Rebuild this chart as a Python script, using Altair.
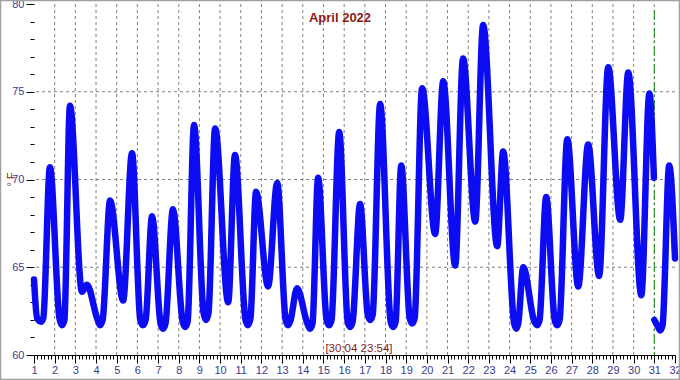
import altair as alt
import pandas as pd

# ---- data ----
days_a = [1.00, 1.15, 1.34, 1.45, 1.77,
          2.23, 2.35, 2.47, 2.74, 3.32, 3.56,
          4.05, 4.19, 4.32, 4.68, 5.31, 5.74,
          6.14, 6.27, 6.40, 6.71,
          7.12, 7.24, 7.36, 7.72,
          8.19, 8.31, 8.43, 8.74,
          9.20, 9.32, 9.44, 9.76, 10.39, 10.72,
          11.23, 11.35, 11.47, 11.74, 12.32, 12.76,
          13.17, 13.29, 13.41, 13.72,
          14.22, 14.35, 14.47, 14.74,
          15.15, 15.27, 15.39, 15.76,
          16.17, 16.29, 16.41, 16.77,
          17.14, 17.26, 17.38, 17.74,
          18.25, 18.37, 18.49, 18.76,
          19.17, 19.29, 19.41, 19.77, 20.40, 20.79, 21.37, 21.75, 22.34, 22.72,
          23.40, 23.69,
          24.22, 24.32, 24.42, 24.66,
          25.20, 25.33, 25.45, 25.77,
          26.18, 26.30, 26.42, 26.79, 27.32, 27.80, 28.33,
          28.77, 29.35, 29.74, 30.37, 30.76, 30.98]
temps_a = [64.3, 62.1, 61.9, 62.1, 70.7,
           62.1, 61.7, 62.0, 74.2, 63.6, 64.0,
           62.1, 61.7, 62.0, 68.8, 63.1, 71.5,
           62.0, 61.7, 62.0, 67.9,
           61.8, 61.5, 61.8, 68.3,
           61.9, 61.6, 61.9, 73.1,
           62.4, 62.0, 62.4, 72.9, 63.0, 71.4,
           62.0, 61.7, 62.1, 69.3, 63.9, 69.8,
           62.0, 61.7, 62.0, 63.8,
           61.8, 61.5, 61.8, 70.1,
           62.0, 61.7, 62.0, 72.7,
           61.9, 61.6, 61.9, 68.6,
           62.3, 62.0, 62.3, 74.3,
           61.9, 61.6, 61.9, 70.8,
           62.1, 61.8, 62.1, 75.2, 66.9, 75.6, 65.1, 76.9, 67.6, 78.8,
           66.2, 71.6,
           61.8, 61.5, 61.8, 65.0,
           61.9, 61.7, 62.0, 69.0,
           62.0, 61.7, 62.0, 72.3, 63.9, 72.0, 64.5,
           76.4, 67.7, 76.1, 63.4, 74.9, 70.1]
days_b = [31.00, 31.18, 31.29, 31.40, 31.72, 32.00]
temps_b = [62.0, 61.6, 61.4, 61.7, 70.8, 65.5]

day_labels = list(range(1, 33))
grid_days = list(range(2, 32))
grid_temps = [65, 70, 75]
major_temps = [60, 65, 70, 75, 80]
minor_temps = [t for t in range(61, 80) if t % 5 != 0]
minor_days = [d + k / 6 for d in range(1, 32) for k in range(1, 6)]
marker_day = 31

title_text = "April 2022"
stamp_text = "[30:04 23:54]"

# ---- styling ----
W, H = 641, 351
LBL = "#3b3b8f"
RED = "#8b1a1a"
FONT = "Liberation Sans"

xs = alt.Scale(domain=[1, 32], nice=False, zero=False)
ys = alt.Scale(domain=[60, 80], nice=False, zero=False)

df_line = pd.DataFrame({
    "day": days_a + days_b,
    "temp": temps_a + temps_b,
    "seg": ["a"] * len(days_a) + ["b"] * len(days_b),
})

vgrid = alt.Chart(pd.DataFrame({"day": grid_days})).mark_rule(
    color="#808080", strokeDash=[3, 3], strokeWidth=1
).encode(
    x=alt.X("day:Q", scale=xs, axis=alt.Axis(
        orient="bottom", values=minor_days, labels=False, domain=False, grid=False,
        tickSize=4, tickColor="#000000", title=None))
)

hgrid = alt.Chart(pd.DataFrame({"temp": grid_temps})).mark_rule(
    color="#808080", strokeDash=[3, 3], strokeWidth=1
).encode(
    y=alt.Y("temp:Q", scale=ys, axis=alt.Axis(
        orient="left", values=minor_temps, labels=False, domain=False, grid=False,
        tickSize=4, tickColor="#000000", title=None))
)

marker = alt.Chart(pd.DataFrame({"day": [marker_day]})).mark_rule(
    color="#1a8a1a", strokeDash=[10, 3, 2, 3], strokeWidth=1
).encode(
    x=alt.X("day:Q", scale=xs, axis=None),
    y=alt.value(6), y2=alt.value(H)
)

line = alt.Chart(df_line).mark_line(
    color="#0c0cf2", strokeWidth=6.5, interpolate="monotone",
    strokeCap="round", strokeJoin="round"
).encode(
    x=alt.X("day:Q", scale=xs, axis=alt.Axis(
        orient="bottom", values=day_labels, format="d", grid=False, domain=True,
        domainColor="#000000", tickColor="#000000", tickSize=8, labelPadding=1,
        labelColor=LBL, labelFont=FONT, labelFontSize=11, labelFlush=False,
        labelOverlap=False, title=None)),
    y=alt.Y("temp:Q", scale=ys, axis=alt.Axis(
        orient="left", values=major_temps, format="d", grid=False, domain=False,
        tickColor="#000000", tickSize=8, labelPadding=2,
        labelColor=LBL, labelFont=FONT, labelFontSize=11, labelFlush=False,
        title="° F", titleColor=RED, titleFont=FONT, titleFontSize=11,
        titleFontWeight="normal", titleX=-23, titleY=175, titleAngle=270,
        titleAlign="center", titleBaseline="middle")),
    detail="seg:N",
)

title = alt.Chart(pd.DataFrame({"t": [title_text]})).mark_text(
    font=FONT, fontSize=13, fontWeight="bold", color=RED, align="center",
    baseline="middle"
).encode(x=alt.value(306), y=alt.value(14), text="t:N")

stamp = alt.Chart(pd.DataFrame({"t": [stamp_text]})).mark_text(
    font=FONT, fontSize=11.5, color=RED, align="center", baseline="middle"
).encode(x=alt.value(325), y=alt.value(345), text="t:N")

border = alt.Chart(pd.DataFrame({"t": [0]})).mark_rect(
    fill=None, stroke="#a0a0a0", strokeWidth=1.5
).encode(
    x=alt.value(-33.5), x2=alt.value(W + 4.5),
    y=alt.value(-3.5), y2=alt.value(H + 24.5)
)

chart = alt.layer(vgrid, hgrid, marker, line, title, stamp, border).resolve_axis(
    x="independent", y="independent"
).properties(
    width=W, height=H,
    padding={"left": 34, "top": 4, "right": 5, "bottom": 25},
    autosize=alt.AutoSizeParams(type="none"),
    background="#ffffff",
).configure_view(stroke=None)

chart.save("out.html", embed_options={"renderer": "svg", "actions": False})
